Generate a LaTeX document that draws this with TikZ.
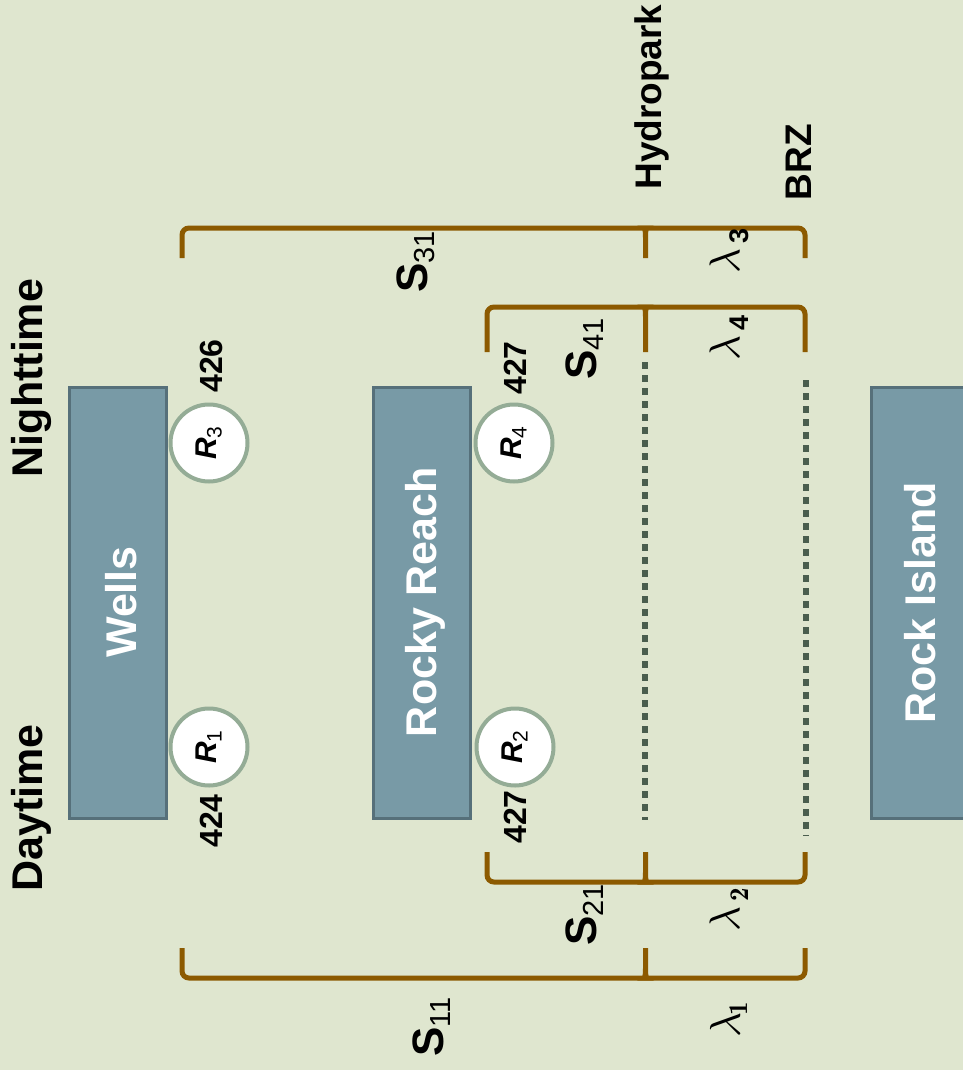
\documentclass[tikz,border=0pt]{standalone}
\usepackage{fontspec}
\setmainfont{Liberation Sans}
\definecolor{bg}{RGB}{223,230,207}
\definecolor{boxfill}{RGB}{120,154,166}
\definecolor{boxline}{RGB}{86,112,122}
\definecolor{ringc}{RGB}{148,172,150}
\definecolor{brown}{RGB}{140,90,0}
\definecolor{dotc}{RGB}{74,94,78}
\newcommand{\fs}[1]{\fontsize{#1}{#1}\selectfont}
\newcommand{\biglam}{\scalebox{4.3}{\fs{10}$\lambda$}}
\begin{document}
\begin{tikzpicture}[x=1pt,y=-1pt,
  rot/.style={rotate=90,inner sep=0pt},
  big/.style={rot,font=\bfseries\fs{43}},
  head/.style={rot,font=\bfseries\fs{37}},
  num/.style={rot,font=\bfseries\fs{32}},
  plant/.style={rotate=90,draw=boxline,fill=boxfill,line width=3pt,minimum width=431,minimum height=97,inner sep=0pt},
  plantlbl/.style={rot,text=white,font=\bfseries\fs{43}},
  res/.style={circle,draw=ringc,fill=white,line width=4pt,minimum size=77,inner sep=0pt,rotate=90,font=\fs{30}},
  br/.style={draw=brown,line width=5pt,rounded corners=7pt},
  dots/.style={draw=dotc,line width=6pt,dash pattern=on 7pt off 6pt},
  lam/.style={rot,font=\fs{40}},
  ess/.style={rot,font=\bfseries\fs{44}}]
\fill[bg] (0,0) rectangle (963,1070);
\useasboundingbox (0,0) rectangle (963,1070);

% plants
\node[plant] (wells) at (117.5,602.5) {};
\node[plant] (rocky) at (421.5,602.5) {};
\begin{scope}
\clip (0,0) rectangle (963,1070);
\node[plant] (island) at (919.5,602.5) {};
\end{scope}
\node[plantlbl] (wellsl) at (121,602) {Wells};
\node[plantlbl] (rockyl) at (425.5,602) {Rocky Reach};
\node[plantlbl] (islandl) at (920,603) {Rock Island};

% receivers
\node[res] (r3) at (209,443) {\bfseries\itshape R\raisebox{-0.3ex}{\mdseries\upshape\fs{21}3}};
\node[res] (r1) at (209,747) {\bfseries\itshape R\raisebox{-0.3ex}{\mdseries\upshape\fs{21}1}};
\node[res] (r4) at (514,443) {\bfseries\itshape R\raisebox{-0.3ex}{\mdseries\upshape\fs{21}4}};
\node[res] (r2) at (515,747) {\bfseries\itshape R\raisebox{-0.3ex}{\mdseries\upshape\fs{21}2}};

% numbers
\node[num] (n426) at (211,366) {426};
\node[num] (n424) at (211,821) {424};
\node[num] (n427a) at (515,368) {427};
\node[num] (n427b) at (515,817) {427};

% side labels
\node[big] (night) at (31,378) {Nighttime};
\node[big] (day) at (31,808) {Daytime};
\node[head] (hydro) at (652,97) {Hydropark};
\node[head] (brz) at (799,162) {BRZ};

% brackets
\coordinate (a1) at (182,258); \coordinate (a2) at (182,228);
\coordinate (a3) at (805,228); \coordinate (a4) at (805,258);
\draw[br] (a1) -- (a2) -- (a3) -- (a4);
\coordinate (b1) at (487,352); \coordinate (b2) at (487,307);
\coordinate (b3) at (805,307); \coordinate (b4) at (805,352);
\draw[br] (b1) -- (b2) -- (b3) -- (b4);
\coordinate (c1) at (487,852); \coordinate (c2) at (487,882);
\coordinate (c3) at (805,882); \coordinate (c4) at (805,852);
\draw[br] (c1) -- (c2) -- (c3) -- (c4);
\coordinate (d1) at (182,948); \coordinate (d2) at (182,978);
\coordinate (d3) at (805,978); \coordinate (d4) at (805,948);
\draw[br] (d1) -- (d2) -- (d3) -- (d4);
% middle ticks with flares
\foreach \y/\e in {228/258, 307/352}{
  \fill[brown] (637,\y-2.5) .. controls (643,\y-2.5) and (643,\y+3) .. (643,\y+10) -- (643,\e) -- (648,\e) -- (648,\y+10) .. controls (648,\y+3) and (648,\y-2.5) .. (654,\y-2.5) -- cycle;
}
\foreach \y/\e in {882/852, 978/948}{
  \fill[brown] (637,\y+2.5) .. controls (643,\y+2.5) and (643,\y-3) .. (643,\y-10) -- (643,\e) -- (648,\e) -- (648,\y-10) .. controls (648,\y-3) and (648,\y+2.5) .. (654,\y+2.5) -- cycle;
}

% dotted lines
\coordinate (p1) at (645,362); \coordinate (p2) at (645,820);
\coordinate (q1) at (806,380); \coordinate (q2) at (806,836);
\draw[dots] (p1) -- (p2);
\draw[dots] (q1) -- (q2);

% S labels
\node[ess] (s31) at (416,262) {S\raisebox{-0.3ex}{\mdseries\fs{29}31}};
\node[ess] (s41) at (585,349) {S\raisebox{-0.3ex}{\mdseries\fs{29}41}};
\node[ess] (s21) at (585,915) {S\raisebox{-0.3ex}{\mdseries\fs{29}21}};
\node[ess] (s11) at (432,1027) {S\raisebox{-0.3ex}{\mdseries\fs{29}11}};

% lambda labels
\node[lam] (l3) at (729,251) {\biglam\kern5pt\raisebox{-9pt}{\bfseries\fs{27}3}};
\node[lam] (l4) at (729,338) {\biglam\kern5pt\raisebox{-9pt}{\bfseries\fs{27}4}};
\node[lam] (l2) at (729,910) {\biglam\kern5pt\raisebox{-9pt}{\fontfamily{lmr}\bfseries\fs{27}2}};
\node[lam] (l1) at (729,1020) {\biglam\kern-3pt\raisebox{-8pt}{\fontfamily{lmr}\bfseries\fs{27}1}};
\end{tikzpicture}
\end{document}
